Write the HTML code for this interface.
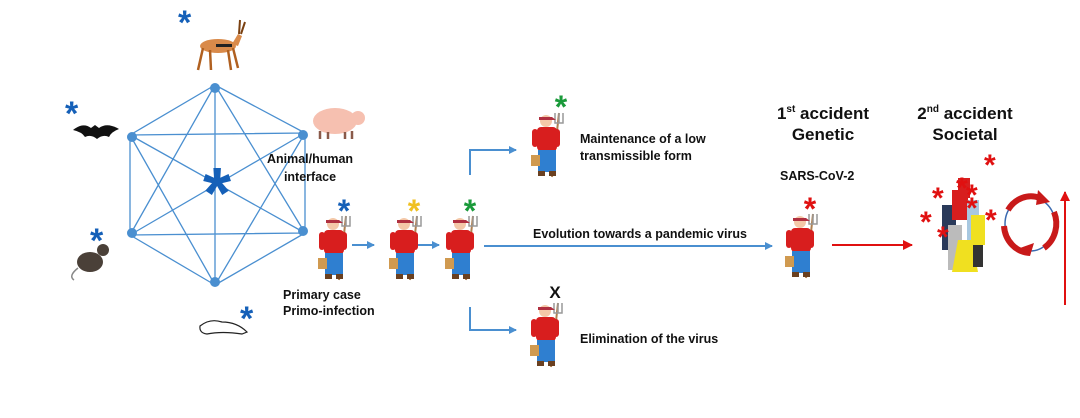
<!DOCTYPE html>
<html><head><style>
body{margin:0;background:#fff;}
svg{display:block;font-family:"Liberation Sans",Arial,sans-serif;}
.b{font-weight:bold;font-size:12.5px;fill:#111;}
.h{font-weight:bold;font-size:17px;fill:#111;}
</style></head><body>
<svg width="1080" height="418" viewBox="0 0 1080 418">
<defs>
<marker id="ab" markerWidth="8" markerHeight="8" refX="7" refY="4" orient="auto" markerUnits="userSpaceOnUse"><path d="M0,0 L8,4 L0,8 z" fill="#4a8fd0"/></marker>
<marker id="ar" markerWidth="10" markerHeight="10" refX="9" refY="5" orient="auto" markerUnits="userSpaceOnUse"><path d="M0,0 L10,5 L0,10 z" fill="#e01010"/></marker>
<g id="farmer">
<line x1="27" y1="2" x2="20" y2="66" stroke="#b08050" stroke-width="2"/>
<path d="M23,2 v10 h8 v-10 M27,2 v10" stroke="#999" stroke-width="1.5" fill="none"/>
<rect x="5" y="16" width="20" height="24" rx="4" fill="#d81e1e"/>
<rect x="0" y="18" width="6" height="18" rx="3" fill="#d81e1e"/>
<rect x="22" y="18" width="6" height="18" rx="3" fill="#d81e1e"/>
<circle cx="14" cy="10" r="6" fill="#f4c8a8"/>
<path d="M7,6 h13 l4,3 h-17 z" fill="#b03040"/>
<rect x="6" y="39" width="18" height="22" fill="#2f7fd0"/>
<rect x="6" y="60" width="7" height="5" fill="#6a4020"/>
<rect x="17" y="60" width="7" height="5" fill="#6a4020"/>
<rect x="-1" y="44" width="9" height="11" fill="#d09a50"/>
</g>
</defs>

<!-- network -->
<g stroke="#4a8fd0" stroke-width="1.3" fill="none">
<path d="M215,85 L130,135 M215,85 L305,133 M130,135 L305,133 M130,135 L130,235 M305,133 L305,233 M130,235 L305,233 M130,235 L215,285 M305,233 L215,285 M215,85 L215,285 M215,85 L130,235 M215,85 L305,233 M130,135 L215,285 M305,133 L215,285 M130,135 L305,233 M305,133 L130,235"/>
</g>
<g fill="#4a8fd0">
<circle cx="215" cy="88" r="5"/><circle cx="132" cy="137" r="5"/><circle cx="303" cy="135" r="5"/>
<circle cx="132" cy="233" r="5"/><circle cx="303" cy="231" r="5"/><circle cx="215" cy="282" r="5"/>
</g>
<text x="217" y="218" font-size="72" font-weight="bold" fill="#1560b8" text-anchor="middle">*</text>

<!-- animals -->
<g>
<ellipse cx="218" cy="46" rx="18" ry="7" fill="#d98a4a"/>
<path d="M203,48 l-5,22 M210,50 l1,20 M228,50 l3,20 M233,48 l5,20" stroke="#b06020" stroke-width="2.5"/>
<path d="M232,44 l6,-10 l4,2 l-4,10z" fill="#d98a4a"/>
<path d="M239,34 l1,-14 M241,34 l4,-12" stroke="#7a4010" stroke-width="2"/>
<rect x="216" y="44" width="16" height="3" fill="#222"/>
<text x="178" y="34" font-size="34" font-weight="bold" fill="#1560b8">*</text>
</g>
<g>
<path d="M73,130 q10,-8 18,-2 l4,-3 l4,3 q8,-6 20,1 q-8,3 -10,8 q-6,-3 -12,2 q-6,-5 -12,-2 q-3,-5 -12,-7z" fill="#111"/>
<text x="65" y="125" font-size="34" font-weight="bold" fill="#1560b8">*</text>
</g>
<g>
<ellipse cx="335" cy="121" rx="22" ry="13" fill="#f6c0b0"/>
<ellipse cx="358" cy="118" rx="7" ry="7" fill="#f6c0b0"/>
<path d="M320,131 v8 M328,132 v7 M345,132 v7 M352,131 v8" stroke="#8a5a4a" stroke-width="2.5"/>
</g>
<g>
<ellipse cx="90" cy="262" rx="13" ry="10" fill="#4a4038"/>
<circle cx="103" cy="250" r="6" fill="#4a4038"/>
<path d="M78,268 q-10,8 -4,12" stroke="#888" stroke-width="1.5" fill="none"/>
<text x="90" y="252" font-size="34" font-weight="bold" fill="#1560b8">*</text>
</g>
<g>
<path d="M200,326 q10,-8 22,-4 q15,0 25,10 l-5,2 q-20,-3 -35,0 q-8,-1 -7,-8z" fill="#fff" stroke="#222" stroke-width="1.2"/>
<text x="240" y="330" font-size="34" font-weight="bold" fill="#1560b8">*</text>
</g>

<text x="310" y="163" class="b" text-anchor="middle">Animal/human</text>
<text x="310" y="181" class="b" text-anchor="middle">interface</text>

<!-- farmers -->
<use href="#farmer" x="319" y="214"/>
<use href="#farmer" x="390" y="214"/>
<use href="#farmer" x="446" y="214"/>
<use href="#farmer" x="532" y="111"/>
<use href="#farmer" x="531" y="301"/>
<use href="#farmer" x="786" y="212"/>
<text x="344" y="222" font-size="32" font-weight="bold" fill="#1560b8" text-anchor="middle">*</text>
<text x="414" y="222" font-size="32" font-weight="bold" fill="#f0c020" text-anchor="middle">*</text>
<text x="470" y="222" font-size="32" font-weight="bold" fill="#1a9a3a" text-anchor="middle">*</text>
<text x="561" y="118" font-size="32" font-weight="bold" fill="#1a9a3a" text-anchor="middle">*</text>
<text x="555" y="298" font-size="17" font-weight="bold" fill="#111" text-anchor="middle">X</text>
<text x="810" y="220" font-size="32" font-weight="bold" fill="#e01010" text-anchor="middle">*</text>

<text x="283" y="299" class="b">Primary case</text>
<text x="283" y="315" class="b">Primo-infection</text>

<!-- arrows -->
<g stroke="#4a8fd0" stroke-width="2" fill="none">
<line x1="352" y1="245" x2="374" y2="245" marker-end="url(#ab)"/>
<line x1="418" y1="245" x2="439" y2="245" marker-end="url(#ab)"/>
<line x1="484" y1="246" x2="772" y2="246" marker-end="url(#ab)"/>
<path d="M470,175 V150 H516" marker-end="url(#ab)"/>
<path d="M470,307 V330 H516" marker-end="url(#ab)"/>
</g>

<text x="580" y="143" class="b">Maintenance of a low</text>
<text x="580" y="160" class="b">transmissible form</text>
<text x="533" y="238" class="b">Evolution towards a pandemic virus</text>
<text x="580" y="343" class="b">Elimination of the virus</text>

<text x="823" y="119" class="h" text-anchor="middle">1<tspan font-size="10" dy="-7">st</tspan><tspan dy="7"> accident</tspan></text>
<text x="823" y="140" class="h" text-anchor="middle">Genetic</text>
<text x="965" y="119" class="h" text-anchor="middle">2<tspan font-size="10" dy="-7">nd</tspan><tspan dy="7"> accident</tspan></text>
<text x="965" y="140" class="h" text-anchor="middle">Societal</text>
<text x="780" y="180" font-size="12.5" font-weight="bold" fill="#111">SARS-CoV-2</text>

<line x1="832" y1="245" x2="912" y2="245" stroke="#e01010" stroke-width="2" marker-end="url(#ar)"/>
<line x1="1065" y1="305" x2="1065" y2="192" stroke="#e01010" stroke-width="2" marker-end="url(#ar)"/>

<!-- crowd -->
<g>
<rect x="942" y="205" width="14" height="45" fill="#2a3a5a"/>
<rect x="952" y="190" width="16" height="30" fill="#d81e1e"/>
<rect x="958" y="178" width="12" height="20" fill="#d81e1e"/>
<rect x="967" y="200" width="12" height="45" fill="#a8c8e0"/>
<rect x="948" y="225" width="14" height="45" fill="#bbb"/>
<path d="M958,240 h14 l6,32 h-26z" fill="#f0e020"/>
<rect x="971" y="215" width="14" height="30" fill="#f0e020"/>
<rect x="973" y="245" width="10" height="22" fill="#333"/>
<g fill="#e01010" font-size="30" font-weight="bold">
<text x="956" y="198">*</text><text x="984" y="175">*</text><text x="932" y="208">*</text><text x="966" y="205">*</text><text x="966" y="218">*</text><text x="920" y="232">*</text><text x="985" y="230">*</text><text x="937" y="247">*</text>
</g>
</g>
<ellipse cx="1030" cy="224" rx="25" ry="27" fill="none" stroke="#3a6ab0" stroke-width="1.5"/>
<g fill="none" stroke="#c81a1a" stroke-width="6">
<path d="M1008,210 A27,29 0 0 1 1040,198"/>
<path d="M1054,212 A27,29 0 0 1 1044,248"/>
<path d="M1030,253 A27,29 0 0 1 1004,226"/>
</g>
<g fill="#c81a1a"><path d="M1038,190 l12,12 l-14,3z"/><path d="M1020,248 l14,-5 l-4,13z"/></g>
</svg>
</body></html>
